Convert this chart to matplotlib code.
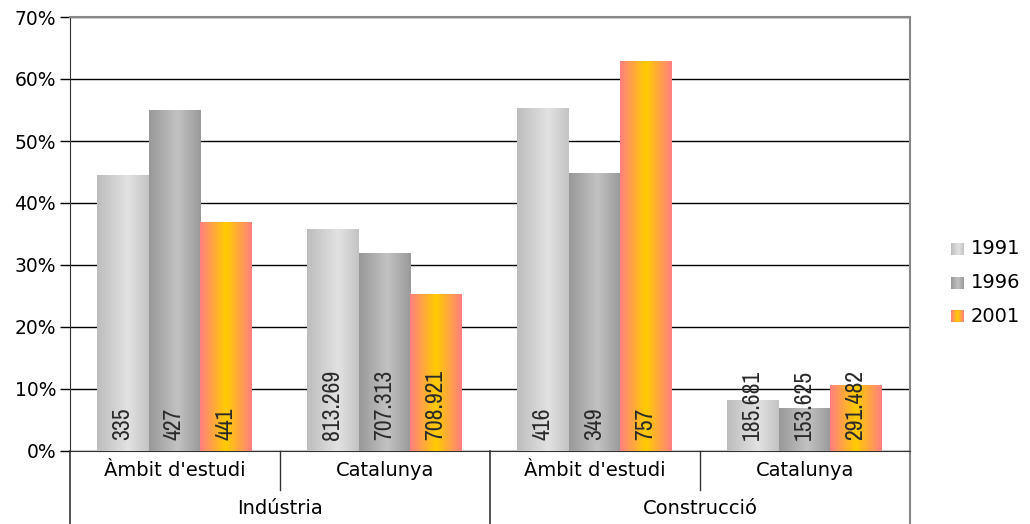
import numpy as np
import matplotlib
matplotlib.use('Agg')
import matplotlib.pyplot as plt
from matplotlib import font_manager
from matplotlib.ticker import FuncFormatter

# dades
grups = ["Àmbit d'estudi", "Catalunya", "Àmbit d'estudi", "Catalunya"]
sectors = ["Indústria", "Construcció"]
anys = ["1991", "1996", "2001"]
v1991 = [0.445, 0.358, 0.552, 0.082]
v1996 = [0.549, 0.319, 0.448, 0.069]
v2001 = [0.368, 0.252, 0.629, 0.105]
et1991 = ["335", "813.269", "416", "185.681"]
et1996 = ["427", "707.313", "349", "153.625"]
et2001 = ["441", "708.921", "757", "291.482"]

series = [v1991, v1996, v2001]
etiquetes = [et1991, et1996, et2001]

# busca una lletra estreta (no negreta) per a les etiquetes de les barres
estretes = [f.fname for f in font_manager.fontManager.ttflist
            if ('Condensed' in f.fname or 'Narrow' in f.fname)
            and not any(k in f.fname for k in ['Bold', 'Oblique', 'Italic'])]
estretes.sort(key=lambda p: ('Narrow' not in p, p))


def gradient(stops, n=64):
    pos = np.array([s[0] for s in stops])
    cols = np.array([matplotlib.colors.to_rgb(s[1]) for s in stops])
    x = np.linspace(0, 1, n)
    rgb = np.stack([np.interp(x, pos, cols[:, k]) for k in range(3)], axis=-1)
    return rgb[np.newaxis, :, :]


grads = [
    gradient([(0, '#bdbdbd'), (0.6, '#e2e2e2'), (1, '#c4c4c4')]),
    gradient([(0, '#999999'), (0.55, '#c2c2c2'), (1, '#9a9a9a')]),
    gradient([(0, '#ff8080'), (0.5, '#ffcc00'), (1, '#ff8080')]),
]

if estretes:
    prop_et = font_manager.FontProperties(fname=estretes[0], size=17)
else:
    prop_et = font_manager.FontProperties(family='DejaVu Sans', size=13)

W, H = 1030, 524
fig = plt.figure(figsize=(W / 100, H / 100), dpi=100)
ax = fig.add_axes([70 / W, (H - 451) / H, 840 / W, 434 / H])

amplada = 0.245
inici = 0.129
for j, vals in enumerate(series):
    for i, v in enumerate(vals):
        x0 = i + inici + j * amplada
        ax.imshow(grads[j], extent=[x0, x0 + amplada, 0, v], aspect='auto',
                  interpolation='bilinear', zorder=3)
        ax.annotate(etiquetes[j][i], xy=(x0 + amplada / 2, 0), xytext=(0, 8),
                    textcoords='offset points', rotation=90, ha='center', va='bottom',
                    color='#2a2a2a', zorder=5, fontproperties=prop_et)

ax.set_xlim(0, 4)
ax.set_ylim(0, 0.7)
ax.set_yticks(np.arange(0, 0.71, 0.1))
ax.yaxis.set_major_formatter(FuncFormatter(lambda y, _: f"{y * 100:.0f}%"))
ax.tick_params(axis='y', length=7, width=1, labelsize=13.5, color='black', pad=3)
ax.set_xticks([])
ax.grid(axis='y', color='black', linewidth=1, zorder=1)
ax.set_axisbelow(True)

for s in ['top', 'right']:
    ax.spines[s].set_color('#888888')
    ax.spines[s].set_linewidth(1.5)
ax.spines['left'].set_color('#333333')
ax.spines['bottom'].set_color('#333333')

# eix x de dos nivells
baix = -73 / 434
mig = -39 / 434
for xs in [0, 2, 4]:
    col = '#888888' if xs == 4 else '#333333'
    ax.plot([xs, xs], [0, baix], transform=ax.get_xaxis_transform(), color=col,
            lw=1.2 if xs != 4 else 1.5, clip_on=False)
for xs in [1, 3]:
    ax.plot([xs, xs], [0, mig], transform=ax.get_xaxis_transform(), color='#333333',
            lw=1, clip_on=False)
for i, g in enumerate(grups):
    ax.text(i + 0.5, -19 / 434, g, transform=ax.get_xaxis_transform(), ha='center',
            va='center', fontsize=14)
for k, s in enumerate(sectors):
    ax.text(2 * k + 1, -58 / 434, s, transform=ax.get_xaxis_transform(), ha='center',
            va='center', fontsize=14)

# llegenda
for j, a in enumerate(anys):
    yc = [249, 283, 316][j]
    lax = fig.add_axes([951 / W, (H - yc - 6.5) / H, 13 / W, 13 / H])
    lax.imshow(grads[j], aspect='auto', interpolation='bilinear')
    lax.axis('off')
    fig.text(971 / W, (H - yc) / H, a, ha='left', va='center', fontsize=14)

fig.savefig('out.png', dpi=100)
